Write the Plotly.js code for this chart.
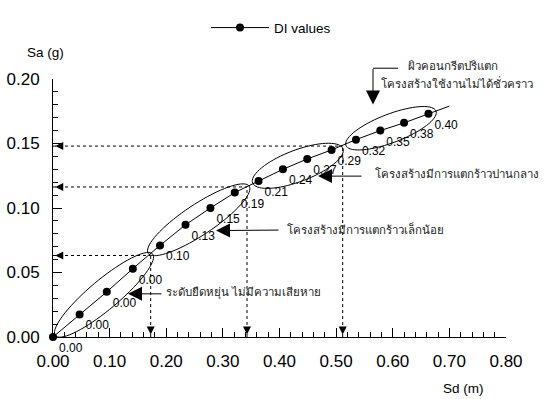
<!DOCTYPE html>
<html><head><meta charset="utf-8">
<script src="https://cdn.plot.ly/plotly-3.0.1.min.js"></script>
<style>html,body{margin:0;padding:0;background:#fff}#chart{width:545px;height:399px}</style>
</head><body><div id="chart"></div>
<script>
// ---- data ----
const sd = [0, 0.047, 0.095, 0.141, 0.189, 0.234, 0.278, 0.321, 0.363, 0.406, 0.449, 0.492, 0.535, 0.578, 0.620, 0.663];
const sa = [0, 0.0175, 0.035, 0.053, 0.071, 0.087, 0.100, 0.112, 0.121, 0.130, 0.138, 0.145, 0.153, 0.160, 0.166, 0.173];
const diLabels = ["0.00","0.00","0.00","0.00","0.10","0.13","0.15","0.19","0.21","0.24","0.27","0.29","0.32","0.35","0.38","0.40"];
const extSd = [0.663, 0.700];
const extSa = [0.173, 0.179];
const junctionSd = [0.1725, 0.3426, 0.5116];
const junctionSa = [0.0632, 0.1163, 0.148];
const xTicks = [0, 0.1, 0.2, 0.3, 0.4, 0.5, 0.6, 0.7, 0.8];
const yTicks = [0, 0.05, 0.10, 0.15, 0.20];
const stateLabels = ["ผิวคอนกรีตปริแตก", "โครงสร้างใช้งานไม่ได้ชั่วคราว", "โครงสร้างมีการแตกร้าวปานกลาง", "โครงสร้างมีการแตกร้าวเล็กน้อย", "ระดับยืดหยุ่น ไม่มีความเสียหาย"];

// ---- layout geometry ----
const W = 545, H = 399, ML = 53, MR = 39, MT = 74, MB = 62;
const PW = W - ML - MR, PH = H - MT - MB;
const XR = [0, 0.8], YR = [0, 0.2];
const px2x = p => XR[0] + (p - ML) / PW * (XR[1] - XR[0]);
const py2y = p => YR[0] + (H - MB - p) / PH * (YR[1] - YR[0]);
const PX = p => (p - ML) / PW;
const PY = p => (H - MB - p) / PH;
const FONT = '"Liberation Sans", Arial, sans-serif';

function ellipsePath(cx, cy, a, b, deg) {
  const t = deg * Math.PI / 180, pts = [];
  for (let i = 0; i < 72; i++) {
    const u = 2 * Math.PI * i / 72;
    const ex = a * Math.cos(u), ey = b * Math.sin(u);
    const qx = cx + ex * Math.cos(t) - ey * Math.sin(t);
    const qy = cy - (ex * Math.sin(t) + ey * Math.cos(t));
    pts.push(px2x(qx).toFixed(5) + ',' + py2y(qy).toFixed(5));
  }
  return 'M' + pts.join('L') + 'Z';
}

const shapes = [];
[[104, 294, 64, 15, 40.6], [198.7, 217.5, 61, 15.5, 34.2], [297.8, 162.5, 48.4, 16, 21.2], [391, 124.2, 48.3, 14.5, 21.3]]
  .forEach(e => shapes.push({type: 'path', xref: 'x', yref: 'y', path: ellipsePath(...e), line: {color: '#000', width: 1}}));
junctionSd.forEach((x, i) => {
  shapes.push({type: 'line', xref: 'x', yref: 'y', x0: 0, x1: x, y0: junctionSa[i], y1: junctionSa[i], line: {color: '#000', width: 1, dash: 'dot'}});
  shapes.push({type: 'line', xref: 'x', yref: 'y', x0: x, x1: x, y0: 0, y1: junctionSa[i], line: {color: '#000', width: 1, dash: 'dot'}});
});
// elbow arrow line (top right)
shapes.push({type: 'line', xref: 'paper', yref: 'paper', x0: PX(398), x1: PX(373), y0: PY(63), y1: PY(63), line: {color: '#000', width: 1}});

const annotations = [];
junctionSd.forEach((x, i) => {
  annotations.push({x: 0.004, y: junctionSa[i], xref: 'x', yref: 'y', text: '', showarrow: true, ax: 7, ay: 0, arrowhead: 2, arrowsize: 1.6, arrowwidth: 1, arrowcolor: '#000'});
  annotations.push({x: x, y: 0.002, xref: 'x', yref: 'y', text: '', showarrow: true, ax: 0, ay: -7, arrowhead: 2, arrowsize: 1.6, arrowwidth: 1, arrowcolor: '#000'});
});
// solid arrows
[[373, 100, 373, 63], [318, 173, 363, 173], [216, 228.5, 280, 228], [128, 293, 163, 293]].forEach(a => {
  annotations.push({x: PX(a[0]), y: PY(a[1]), xref: 'paper', yref: 'paper', text: '', showarrow: true,
    ax: a[2] - a[0], ay: a[3] - a[1], arrowhead: 2, arrowsize: 2.8, arrowwidth: 1, arrowcolor: '#000'});
});
// Thai labels
[[406, 61], [379, 78], [373, 170], [285, 227], [164, 292]].forEach((p, i) => {
  annotations.push({x: PX(p[0]), y: PY(p[1]), xref: 'paper', yref: 'paper', xanchor: 'left', yanchor: 'middle',
    text: stateLabels[i], showarrow: false, font: {size: 11.5, color: '#222'}});
});
// axis titles
annotations.push({x: PX(45), y: PY(47), xref: 'paper', yref: 'paper', xanchor: 'center', yanchor: 'middle', text: 'Sa (g)', showarrow: false, font: {size: 13.5, color: '#000', family: FONT}});
annotations.push({x: PX(463), y: PY(390), xref: 'paper', yref: 'paper', xanchor: 'center', yanchor: 'middle', text: 'Sd (m)', showarrow: false, font: {size: 13.5, color: '#000', family: FONT}});

const traces = [
  {x: sd, y: sa, text: diLabels, type: 'scatter', mode: 'lines+markers+text', name: 'DI values',
   line: {color: '#000', width: 1}, marker: {color: '#000', size: 8}, cliponaxis: false,
   textposition: 'bottom right', textfont: {family: FONT, size: 12, color: '#000'}},
  {x: extSd, y: extSa, type: 'scatter', mode: 'lines', showlegend: false, line: {color: '#000', width: 1}, hoverinfo: 'skip'}
];

const layout = {
  width: W, height: H, margin: {l: ML, r: MR, t: MT, b: MB},
  paper_bgcolor: '#fff', plot_bgcolor: '#fff',
  font: {family: FONT, color: '#000'},
  showlegend: true,
  legend: {x: PX(206), y: PY(6), xanchor: 'left', yanchor: 'top', orientation: 'h', itemwidth: 58, font: {size: 13.5, family: FONT}, bgcolor: 'rgba(0,0,0,0)'},
  xaxis: {range: XR, tickvals: xTicks, ticktext: xTicks.map(v => v.toFixed(2)), ticks: 'inside', ticklen: 9, tickcolor: '#000',
    showline: true, linecolor: '#000', linewidth: 1, showgrid: false, zeroline: false, tickfont: {size: 17, family: FONT},
    ticklabelstandoff: 9, minor: {dtick: 0.02, ticks: 'inside', ticklen: 5, tickcolor: '#000', showgrid: false}},
  yaxis: {range: YR, tickvals: yTicks, ticktext: yTicks.map(v => v.toFixed(2)), ticks: 'inside', ticklen: 9, tickcolor: '#000',
    showline: true, linecolor: '#000', linewidth: 1, showgrid: false, zeroline: false, tickfont: {size: 17, family: FONT},
    ticklabelstandoff: 9, minor: {dtick: 0.01, ticks: 'inside', ticklen: 5, tickcolor: '#000', showgrid: false}},
  shapes: shapes, annotations: annotations
};
Plotly.newPlot('chart', traces, layout, {displayModeBar: false, staticPlot: true});
</script></body></html>
